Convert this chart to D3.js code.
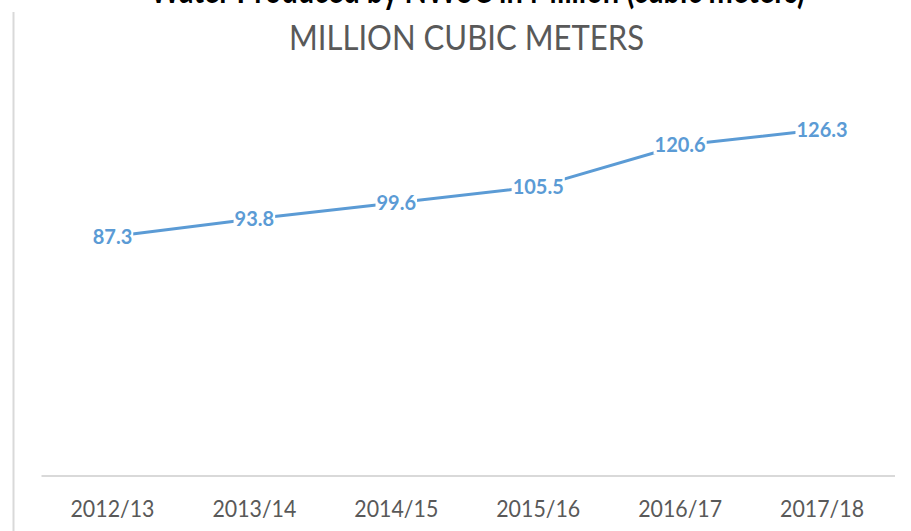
<!DOCTYPE html>
<html>
<head>
<meta charset="utf-8">
<script src="https://cdn.jsdelivr.net/npm/d3@7"></script>
<style>
  html, body { margin: 0; padding: 0; background: #ffffff; }
  svg { display: block; }
  text { font-family: Lato, "Open Sans", "DejaVu Sans", sans-serif; }
</style>
</head>
<body>
<svg id="chart" width="911" height="531"></svg>
<script>
// ---- data ----
const categories = ["2012/13", "2013/14", "2014/15", "2015/16", "2016/17", "2017/18"];
const waterProduced = [87.3, 93.8, 99.6, 105.5, 120.6, 126.3];
const valueLabels = ["87.3", "93.8", "99.6", "105.5", "120.6", "126.3"];
const titleText = "Water Produced by NWSC in Million (cubic meters)";
const subtitleText = "MILLION CUBIC METERS";

// ---- layout ----
const W = 911, H = 531;
const plot = { left: 41.5, right: 893, top: 92, bottom: 476 };

const svg = d3.select("#chart");

const x = d3.scaleBand()
  .domain(categories)
  .range([plot.left, plot.right])
  .padding(0);

const y = d3.scaleLinear()
  .domain([0, 140])
  .range([plot.bottom, plot.top]);

// chart border (left edge visible)
svg.append("line")
  .attr("x1", 13.5).attr("x2", 13.5)
  .attr("y1", 12).attr("y2", H)
  .attr("stroke", "#d9d9d9").attr("stroke-width", 2);

// title (cut off at top of the picture, as in the reference)
svg.append("text")
  .attr("x", 150).attr("y", 3)
  .attr("textLength", 655).attr("lengthAdjust", "spacingAndGlyphs")
  .attr("font-size", 40).attr("font-weight", 700)
  .attr("fill", "#000000")
  .text(titleText);

// subtitle
svg.append("text")
  .attr("x", 289).attr("y", 50)
  .attr("textLength", 355).attr("lengthAdjust", "spacingAndGlyphs")
  .attr("font-size", 35)
  .attr("fill", "#595959")
  .text(subtitleText);

// category axis
const xAxis = d3.axisBottom(x).tickSize(0).tickPadding(0);
const gx = svg.append("g")
  .attr("transform", `translate(0,${plot.bottom})`)
  .call(xAxis);
gx.select(".domain").remove();
gx.append("line")
  .attr("x1", plot.left).attr("x2", 895)
  .attr("y1", 0).attr("y2", 0)
  .attr("stroke", "#d9d9d9").attr("stroke-width", 2);
gx.selectAll(".tick text")
  .attr("y", 41)
  .attr("dy", 0)
  .attr("font-size", 24)
  .attr("fill", "#595959")
  .attr("font-family", "Lato, 'Open Sans', sans-serif")
  .attr("textLength", 84)
  .attr("lengthAdjust", "spacingAndGlyphs");

// line
const pts = categories.map((c, i) => ({ c, v: waterProduced[i], label: valueLabels[i] }));
const cx = d => x(d.c) + x.bandwidth() / 2;

svg.append("path")
  .datum(pts)
  .attr("fill", "none")
  .attr("stroke", "#5b9bd5")
  .attr("stroke-width", 3)
  .attr("stroke-linejoin", "round")
  .attr("d", d3.line().x(cx).y(d => y(d.v)));

// data labels centered on points, with white backgrounds
const lg = svg.append("g").selectAll("g")
  .data(pts)
  .join("g")
  .attr("transform", d => `translate(${cx(d)},${y(d.v)})`);

const lt = lg.append("text")
  .attr("text-anchor", "middle")
  .attr("dy", "0.36em")
  .attr("font-size", 20)
  .attr("font-weight", 700)
  .attr("fill", "#5b9bd5")
  .text(d => d.label);

lt.each(function() {
  const bb = this.getBBox();
  d3.select(this.parentNode).insert("rect", "text")
    .attr("x", bb.x - 1).attr("y", bb.y + 2)
    .attr("width", bb.width + 2).attr("height", bb.height - 4)
    .attr("fill", "#ffffff");
});
</script>
</body>
</html>
